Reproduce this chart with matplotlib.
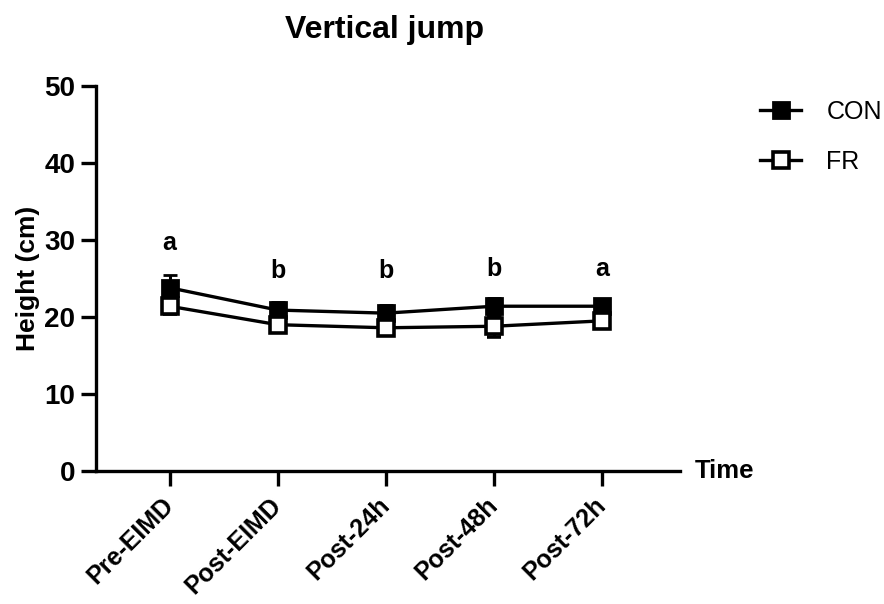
import matplotlib

matplotlib.use("Agg")
import matplotlib.pyplot as plt  # noqa: E402

plt.rcParams["font.family"] = ["Liberation Sans", "DejaVu Sans"]

times = ["Pre-EIMD", "Post-EIMD", "Post-24h", "Post-48h", "Post-72h"]
con_mean = [23.8, 20.9, 20.5, 21.4, 21.4]
con_err = [1.7, 1.0, 1.1, 1.1, 0.8]
fr_mean = [21.4, 19.0, 18.6, 18.8, 19.5]
fr_err = [1.0, 0.9, 0.9, 1.4, 0.9]
letters = ["a", "b", "b", "b", "a"]
letter_y = [29.6, 26.0, 26.0, 26.2, 26.2]

fig = plt.figure(figsize=(8.84, 6.04), dpi=100)
ax = fig.add_axes([0.1086, 0.2202, 0.6606, 0.6374])

xs = list(range(len(times)))
lw = 2.4
ax.errorbar(xs, con_mean, yerr=con_err, color="black", lw=lw, marker="s", ms=11,
            mfc="black", mec="black", mew=2, capsize=5, capthick=2.2, elinewidth=2.2,
            label="CON", zorder=3)
ax.errorbar(xs, fr_mean, yerr=fr_err, color="black", lw=lw, marker="s", ms=11,
            mfc="white", mec="black", mew=2.6, capsize=5, capthick=2.2, elinewidth=2.2,
            label="FR", zorder=4)

for x, t, y in zip(xs, letters, letter_y):
    ax.text(x, y, t, ha="center", va="center", fontsize=18, fontweight="bold")

ax.set_xlim(-0.68, 4.72)
ax.set_ylim(0, 50)
ax.set_yticks([0, 10, 20, 30, 40, 50])
ax.set_xticks(xs)
ax.set_xticklabels(times, rotation=45, ha="right", va="center", rotation_mode="anchor",
                   fontsize=18, fontweight="bold")
for lab in ax.get_yticklabels():
    lab.set_fontsize(20)
    lab.set_fontweight("bold")

for s in ["top", "right"]:
    ax.spines[s].set_visible(False)
for s in ["left", "bottom"]:
    ax.spines[s].set_linewidth(2.4)
ax.tick_params(axis="both", width=2.4, length=11, direction="out")
ax.tick_params(axis="y", pad=4)
ax.tick_params(axis="x", pad=11)

ax.set_ylabel("Height (cm)", fontsize=19, fontweight="bold", labelpad=3)
ax.text(1.026, 0.0, "Time", transform=ax.transAxes, ha="left", va="center",
        fontsize=18.5, fontweight="bold")
fig.text(0.4355, 0.95, "Vertical jump", ha="center", va="center",
         fontsize=23, fontweight="bold")

handles, labels = ax.get_legend_handles_labels()
handles = [h[0] for h in handles]
ax.legend(handles, labels, loc="upper left", bbox_to_anchor=(1.12, 0.99),
          frameon=False, fontsize=18, handlelength=1.65, labelspacing=1.05,
          handletextpad=1.0, borderaxespad=0.0)

fig.savefig("out.png", dpi=100)
